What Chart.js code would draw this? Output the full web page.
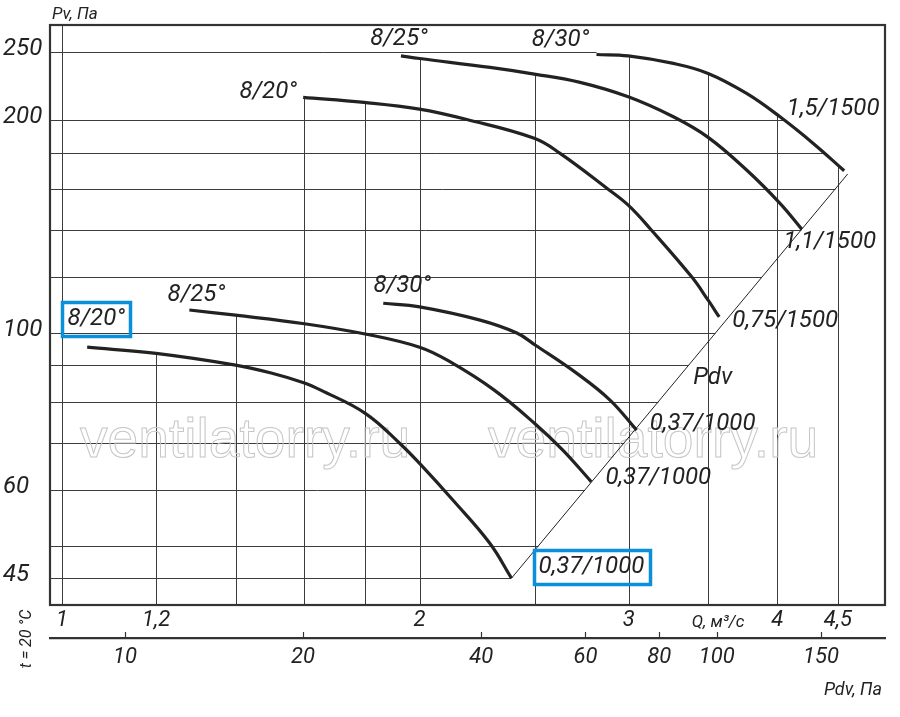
<!DOCTYPE html>
<html>
<head>
<meta charset="utf-8">
<script src="https://cdn.jsdelivr.net/npm/chart.js@4.4.1/dist/chart.umd.min.js"></script>
<style>
  html, body { margin: 0; padding: 0; background: #fff; }
  #chart { display: block; }
</style>
</head>
<body>
<canvas id="chart" width="900" height="717"></canvas>
<script>
// Datos: caudal Q (m3/s) y presión Pv (Pa)
const qA = [1.05, 1.2, 1.4, 1.5, 1.6, 1.65, 1.8, 1.925, 2.0, 2.134, 2.29, 2.39];
const pA = [95.5, 93.6, 90.1, 87.8, 85.0, 83.1, 77.0, 69.8, 65.4, 58.0, 50.5, 45.0];

const qB = [1.28, 1.4, 1.6, 1.8, 2.0, 2.121, 2.31, 2.5, 2.64, 2.79];
const pB = [107.8, 106.0, 103.1, 99.7, 95.5, 91.1, 83.1, 74.5, 68.3, 61.6];

const qC = [1.864, 2.0, 2.249, 2.415, 2.502, 2.713, 2.893, 3.046];
const pC = [110.2, 108.9, 104.3, 100.0, 96.2, 87.7, 80.4, 72.9];

const qD = [1.596, 1.796, 1.999, 2.192, 2.498, 2.626, 2.877, 2.997, 3.126, 3.389, 3.499, 3.575];
const pD = [215.5, 212.0, 207.4, 200.5, 188.6, 179.6, 160.2, 151.7, 140.6, 120.1, 111.3, 105.4];

const qE = [1.929, 2.0, 2.293, 2.498, 2.73, 2.997, 3.271, 3.499, 3.77, 4.022, 4.195];
const pE = [246.7, 244.6, 237.6, 232.5, 226.3, 215.9, 202.3, 189.2, 170.1, 152.6, 140.3];

const qF = [2.818, 2.997, 3.271, 3.499, 3.77, 4.022, 4.29, 4.555];
const pF = [247.8, 246.7, 240.7, 233.0, 218.3, 202.3, 185.5, 169.7];

// línea de presión dinámica Pdv
const qPdv = [2.39, 4.586];
const pPdv = [45, 167.9];

// etiquetas de las curvas
const bladeLabels = ['8/20°', '8/25°', '8/30°', '8/20°', '8/25°', '8/30°'];
const motorLabels = ['0,37/1000', '0,37/1000', '0,37/1000', '0,75/1500', '1,1/1500', '1,5/1500'];

// ticks de los ejes
const qGrid = [1, 1.2, 1.4, 1.6, 1.8, 2, 2.5, 3, 3.5, 4, 4.5];
const qTicks = [1, 1.2, 2, 3, 4, 4.5];
const pGrid = [45, 50, 60, 70, 80, 90, 100, 120, 140, 160, 180, 200, 250];
const pTicks = [45, 60, 100, 200, 250];
const pdvTicks = [10, 20, 40, 60, 80, 100, 150];

const curvesQ = [qA, qB, qC, qD, qE, qF];
const curvesP = [pA, pB, pC, pD, pE, pF];

// desplazamientos de las etiquetas (px) respecto al inicio / final de cada curva
const startOffsets = [[9, -28], [7, -15], [19, -17], [-35, -5], [-2, -17], [-36, -15]];
const endOffsets = [[80, -11], [67, -4], [66, -6], [66, 4], [28, 13], [-11, -62]];
const boxedStart = [true, false, false, false, false, false];
const boxedEnd = [true, false, false, false, false, false];

const INK = '#222';
const FONT = 'Roboto';

let ctx = document.getElementById('chart');

function logInterp(xs, ys, x) {
    if (x < xs[0] - 1e-9 || x > xs[xs.length - 1] + 1e-9) return null;
    for (let i = 0; i < xs.length - 1; i++) {
        if (x <= xs[i + 1] + 1e-9) {
            let t = (Math.log(x) - Math.log(xs[i])) / (Math.log(xs[i + 1]) - Math.log(xs[i]));
            return Math.exp(Math.log(ys[i]) + t * (Math.log(ys[i + 1]) - Math.log(ys[i])));
        }
    }
    return ys[ys.length - 1];
}

function toPoints(qs, ps) {
    return qs.map((q, i) => ({x: q, y: ps[i]}));
}

// rejilla recortada por las curvas y la línea Pdv
const gridPlugin = {
    id: 'gridPlugin',
    beforeDatasetsDraw(chart) {
        const c = chart.ctx;
        const a = chart.chartArea;
        const xs = chart.scales.x;
        const ys = chart.scales.y;
        c.save();
        c.strokeStyle = '#3c3c3c';
        c.lineWidth = 1;
        qGrid.forEach(q => {
            let top = null;
            curvesQ.forEach((cq, i) => {
                let p = logInterp(cq, curvesP[i], q);
                if (p !== null && (top === null || p > top)) top = p;
            });
            let x = Math.round(xs.getPixelForValue(q)) + 0.5;
            let yTop = top === null ? a.top : ys.getPixelForValue(top);
            c.beginPath();
            c.moveTo(x, yTop);
            c.lineTo(x, a.bottom);
            c.stroke();
        });
        const fQr = qF.slice().reverse();
        const fPr = pF.slice().reverse();
        pGrid.forEach(p => {
            let qEnd;
            if (p <= pPdv[1]) {
                qEnd = logInterp(pPdv, qPdv, p);
            } else {
                qEnd = logInterp(fPr, fQr, p);
                if (qEnd === null) qEnd = qF[0];
            }
            let y = Math.round(ys.getPixelForValue(p)) + 0.5;
            c.beginPath();
            c.moveTo(a.left, y);
            c.lineTo(xs.getPixelForValue(qEnd), y);
            c.stroke();
        });

        // marca de agua (solo contorno)
        c.strokeStyle = '#c6c6c6';
        c.lineWidth = 1;
        c.textAlign = 'left';
        c.textBaseline = 'alphabetic';
        const wm = 'ventilatorry.ru';
        c.font = '52px "Liberation Sans"';
        let size = 52 * 330 / c.measureText(wm).width;
        c.font = size.toFixed(1) + 'px "Liberation Sans"';
        c.strokeText(wm, 80, 457);
        c.strokeText(wm, 488, 457);
        c.restore();
    }
};

function drawLabel(c, text, x, y, boxed) {
    c.fillText(text, x, y);
    if (boxed) {
        let w = c.measureText(text).width;
        c.save();
        c.strokeStyle = '#0b8fdc';
        c.lineWidth = 3.5;
        c.strokeRect(Math.round(x - w / 2 - 5) + 0.5, Math.round(y - 17) + 0.5, Math.round(w + 10), 34);
        c.restore();
    }
}

const textPlugin = {
    id: 'textPlugin',
    afterDatasetsDraw(chart) {
        const c = chart.ctx;
        const a = chart.chartArea;
        const xs = chart.scales.x;
        const ys = chart.scales.y;
        const x2 = chart.scales.x2;
        c.save();
        // marco
        c.strokeStyle = '#333';
        c.lineWidth = 2.2;
        c.strokeRect(a.left, a.top, a.right - a.left, a.bottom - a.top);

        // marcas del eje Pdv
        c.lineWidth = 1.2;
        pdvTicks.forEach(v => {
            let x = Math.round(x2.getPixelForValue(v)) + 0.5;
            c.beginPath();
            c.moveTo(x, x2.top - 6);
            c.lineTo(x, x2.top);
            c.stroke();
        });

        c.fillStyle = INK;
        c.font = 'italic 24px ' + FONT;
        c.textAlign = 'center';
        c.textBaseline = 'middle';
        curvesQ.forEach((cq, i) => {
            let cp = curvesP[i];
            let sx = xs.getPixelForValue(cq[0]);
            let sy = ys.getPixelForValue(cp[0]);
            drawLabel(c, bladeLabels[i], sx + startOffsets[i][0], sy + startOffsets[i][1], boxedStart[i]);
            let n = cq.length - 1;
            let ex = xs.getPixelForValue(cq[n]);
            let ey = ys.getPixelForValue(cp[n]);
            drawLabel(c, motorLabels[i], ex + endOffsets[i][0], ey + endOffsets[i][1], boxedEnd[i]);
        });
        // etiqueta Pdv junto a la línea
        let px = xs.getPixelForValue(qPdv[1]);
        let py = ys.getPixelForValue(pPdv[1]);
        c.fillText('Pdv', px - 135, py + 204);

        // títulos de ejes
        c.textBaseline = 'alphabetic';
        c.font = 'italic 17px ' + FONT;
        c.textAlign = 'left';
        c.fillText('Pv, Па', 52, 19);
        c.textAlign = 'center';
        c.fillText('Q, м³/с', 718, 627);
        c.font = 'italic 18px ' + FONT;
        c.textAlign = 'right';
        c.fillText('Pdv, Па', 882, 695);
        c.font = 'italic 16px ' + FONT;
        c.translate(31, 639);
        c.rotate(-Math.PI / 2);
        c.textAlign = 'center';
        c.fillText('t = 20 °C', 0, 0);
        c.restore();
    }
};

function curveDataset(qs, ps) {
    return {
        data: toPoints(qs, ps),
        showLine: true,
        borderColor: INK,
        borderWidth: 3.2,
        pointRadius: 0,
        tension: 0.4
    };
}

let datasets = curvesQ.map((cq, i) => curveDataset(cq, curvesP[i]));
datasets.push({
    data: toPoints(qPdv, pPdv),
    showLine: true,
    borderColor: INK,
    borderWidth: 1,
    pointRadius: 0
});

const tickFont = {family: FONT, style: 'italic', size: 22};

let chart = new Chart(ctx, {
    type: 'scatter',
    data: {datasets: datasets},
    options: {
        responsive: false,
        animation: false,
        layout: {padding: {top: 25, right: 15, left: 3, bottom: 0}},
        plugins: {legend: {display: false}, tooltip: {enabled: false}},
        scales: {
            x: {
                type: 'logarithmic',
                position: 'bottom',
                weight: 0,
                min: 0.977,
                max: 4.93,
                grid: {display: false, drawTicks: false},
                border: {display: false},
                afterBuildTicks: s => { s.ticks = qTicks.map(v => ({value: v})); },
                afterFit: s => { s.height = 33; },
                ticks: {
                    font: tickFont,
                    color: INK,
                    padding: 2,
                    maxRotation: 0,
                    autoSkip: false,
                    callback: v => String(v).replace('.', ',')
                }
            },
            x2: {
                type: 'logarithmic',
                position: 'bottom',
                weight: 1,
                min: 7.47,
                max: 192.5,
                grid: {display: false, drawTicks: false},
                border: {display: true, color: '#333', width: 2.2},
                afterBuildTicks: s => { s.ticks = pdvTicks.map(v => ({value: v})); },
                afterFit: s => { s.height = 79; },
                ticks: {
                    font: tickFont,
                    color: INK,
                    padding: 6,
                    maxRotation: 0,
                    autoSkip: false,
                    callback: v => String(v)
                }
            },
            y: {
                type: 'logarithmic',
                position: 'left',
                min: 41.24,
                max: 272.8,
                grid: {display: false, drawTicks: false},
                border: {display: false},
                afterBuildTicks: s => { s.ticks = pTicks.map(v => ({value: v})); },
                afterFit: s => { s.width = 47; },
                ticks: {
                    font: {family: FONT, style: 'italic', size: 24},
                    color: INK,
                    crossAlign: 'far',
                    labelOffset: -3,
                    padding: 0,
                    autoSkip: false,
                    callback: v => String(v)
                }
            }
        }
    },
    plugins: [gridPlugin, textPlugin]
});
</script>
</body>
</html>
